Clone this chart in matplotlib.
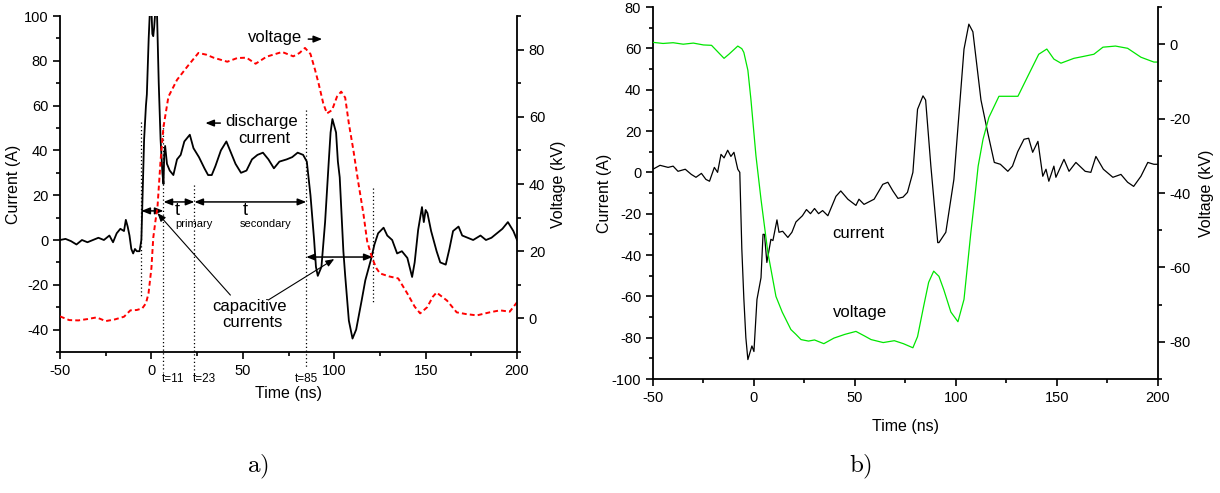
import numpy as np
import matplotlib.pyplot as plt
from matplotlib.ticker import MultipleLocator

plt.rcParams['font.family'] = ['Liberation Sans', 'DejaVu Sans']
plt.rcParams['mathtext.fontset'] = 'cm'
plt.rcParams['axes.unicode_minus'] = False

# ---- panel a) : discharge current and voltage
t_a_cur = [-50, -47, -44, -41, -38, -35, -32, -29, -26, -23, -21, -19, -17, -15, -14, -13,
           -12, -11, -10, -9, -8, -6.5, -5.5, -5, -4, -3, -2.5, -1.5, -0.8, 0, 0.5, 1,
           1.5, 2.2, 3, 4, 5, 6, 6.6, 7, 7.5, 8.5, 10, 12, 14, 16, 18, 21, 23, 26, 29,
           31, 33, 35, 38, 41, 43, 46, 49, 52, 55, 58, 61, 64, 67, 70, 74, 77, 80, 83,
           85, 87, 89, 90, 91, 93, 95, 97, 98, 99, 101, 102, 103, 105, 106, 108, 110,
           112, 115, 117, 120, 122, 124, 127, 129, 131.7, 134.4, 137, 140, 142.6, 144,
           145.9, 148, 149, 150, 151, 153, 156, 158, 161, 163, 165, 168, 170, 173, 176,
           180, 183, 186, 189, 192, 195, 198, 200]
i_a = [0, 0.5, -0.5, -2, 0, -1, 0, 1, 0, 2, -1, 3, 5, 4, 9, 6,
       2, -4, -6, -4, -5, -5, 0, 15, 45, 60, 65, 90, 103, 103, 92, 91,
       95, 103, 103, 70, 45, 30, 25, 38, 42, 34, 31, 29, 36, 38, 44, 47, 41, 37, 32,
       29, 29, 33, 40, 44, 40, 34, 30, 31, 36, 38, 39, 36, 32, 35, 36, 37, 39, 38,
       35, 20, 0, -12, -16, -12, 8, 35, 48, 54, 48, 35, 28, -5, -16, -36, -44,
       -40, -27, -18, -9, -2, 3, 5.5, 2, 0, -6, -5, -8, -16.5, -10,
       4.5, 14.7, 8, 13.4, 12, 4, -5, -10, -11, -4, 4, 6, 2, 1, 0,
       2, 0, 1, 3, 5, 8, 4, 0]

t_a_volt = [-50, -45, -40, -35, -30, -25, -20, -15, -11.5, -8, -5, -3, -1.6, 0, 1, 2.2,
            3.3, 5, 6.6, 9.3, 14, 19.7, 25.7, 30, 34, 41.5, 47, 52, 57, 63, 71.5, 77.6,
            81, 84, 87, 89.5, 91.5, 94, 96, 98.8, 101.5, 103.8, 106, 108, 110.5, 113,
            116, 118, 120.7, 123, 125, 130, 135, 140, 144, 147, 150.8, 154, 156, 161.7,
            167, 172, 178, 185, 190.7, 196, 200]
v_a = [0.6, -0.5, -0.6, -0.2, 0.3, -0.8, -0.3, 0.5, 2.4, 2.5, 3, 4.5, 7.4, 15, 24, 29,
       33, 47, 57, 66, 71, 75, 79, 78.5, 77.6, 76.4, 77.5, 77.6, 75.8, 77.9, 79.3, 78,
       79, 80.5, 78.7, 74, 69.8, 64, 61, 62, 66, 67.5, 65.7, 58, 50, 41,
       31, 23, 18, 15, 13.4, 12.5, 11.9, 7.4, 3.5, 1.5, 3.3, 6.5, 7.7, 5.3,
       1.8, 1.3, 0.9, 1.8, 2.4, 2, 4.8]

# ---- panel b)
t_b_cur = [-50, -46.5, -42.5, -40, -37.6, -34, -31, -28.7, -26, -23.8, -22, -19.6, -18,
           -16.3, -14.8, -13, -11.4, -9.9, -8, -7, -6, -5, -4, -3, -1, 0, 1.5, 3.5, 4.5,
           5.2, 6.4, 8.4, 9.4, 11.4, 12.4, 14.2, 16.8, 18.8, 20.8, 24, 26, 28, 30, 32,
           34, 36.6, 40.6, 43, 46.5, 50.5, 52, 54.5, 59.5, 63.8, 66.3, 68.8, 71.3, 73.8,
           76, 78.7, 81, 83.7, 85, 87.6, 91, 91.6, 95, 99, 104, 106.4, 108.4, 112.4,
           115.8, 119, 122, 125.7, 128, 130.6, 133.7, 136, 138, 140.6, 143, 144.6, 146,
           148.5, 149.5, 153.5, 156, 159.4, 164, 166.8, 169.3, 173, 177.7, 181.7, 185,
           188, 191.6, 195, 198, 200]
i_b = [1.5, 3.4, 2.4, 3, 0.5, 1.5, -1, -2.4, -0.5, -3.4, -4.3, 2.4, 0,
       8.7, 7, 10.7, 7.7, 9.7, 1.5, 0, -37, -61, -80, -90.6, -84, -86.7, -61.5, -51, -30,
       -30, -43.6, -32.4, -33, -23, -29, -28.5, -31.5, -29, -24, -21, -18, -20, -17.5, -20,
       -18.5, -21, -11.6, -9, -13, -16, -13, -15.5, -13, -5.8, -4.8, -9, -12.6, -12,
       -9.7, 0, 30.5, 37, 35, 3, -34, -34, -29, -3.4, 59.6, 71.7, 68, 35,
       19, 4.8, 3.9, 0.5, 3, 10, 16, 16.5, 9.7, 15, -1.9, 1.5, -4.3,
       3, -2.4, 6.3, 0.5, 4.8, 0.5, 0, 7.7, 1.5, -2.4, -1, -4.8,
       -6.8, -1.9, 4.8, 3.9, 3.9]

t_b_volt = [-50, -45, -40, -35, -30, -25, -21, -18, -14.8, -12.4, -10, -8, -6, -5, -3,
            -1.5, 1, 3.5, 6.9, 10.9, 14, 18.3, 20.8, 23.3, 27, 30, 34.6, 39.6, 45, 50.5,
            55, 58, 64, 69.5, 74, 78.7, 81, 84, 86.5, 89, 91.6, 94, 97.5, 101, 104, 107.4,
            109, 111, 113.4, 116.3, 121.3, 125.7, 130.7, 135.6, 141, 145, 148.5, 152,
            158.4, 163, 168.3, 172.8, 179, 185, 191.6, 198, 200]
v_b = [0.5, 0.2, 0.4, 0, 0.3, -0.2, -0.3, -2, -3.8, -2.7, -1.5, -0.5, -1.2, -2.2, -7,
       -14.8, -30, -41.7, -56, -67.8, -72, -76.7, -78, -79.4, -79.8, -79.5, -80.5, -79, -78, -77.2,
       -78.5, -79.4, -80.2, -79.7, -80.5, -81.6, -78.6, -70.5, -64, -61, -62.4, -66, -72, -74.6, -68.6, -50.6,
       -43, -32.8, -25.6, -19.7, -14, -14, -14, -8.6, -2.7, -1.3, -4, -5.1,
       -3.8, -3.3, -2.7, -0.8, -0.5, -1.1, -3.5, -4.8, -4.8]


def style_axes(ax, axv):
    for a in (ax, axv):
        a.spines['top'].set_visible(False)
        a.tick_params(which='major', direction='out', length=5, width=1.2, labelsize=10.5)
        a.tick_params(which='minor', direction='out', length=3, width=1.2)
    ax.spines['right'].set_visible(False)
    axv.spines['left'].set_visible(False)
    axv.spines['bottom'].set_visible(False)
    for s in ('left', 'bottom'):
        ax.spines[s].set_linewidth(1.3)
    axv.spines['right'].set_linewidth(1.3)


fig = plt.figure(figsize=(12.2, 4.93), dpi=100)

# ---------------- a)
ax1 = fig.add_axes([0.0492, 0.286, 0.3746, 0.6815])
ax1v = ax1.twinx()
ax1.plot(t_a_cur, i_a, color='black', lw=1.3)
ax1v.plot(t_a_volt, v_a, color='red', lw=1.4, linestyle=(0, (2.5, 1.6)))
ax1.set_xlim(-50, 200)
ax1.set_ylim(-50, 100)
ax1v.set_ylim(-10, 90)
ax1.xaxis.set_major_locator(MultipleLocator(50))
ax1.xaxis.set_minor_locator(MultipleLocator(25))
ax1.yaxis.set_major_locator(MultipleLocator(20))
ax1.yaxis.set_minor_locator(MultipleLocator(10))
ax1v.yaxis.set_major_locator(MultipleLocator(20))
ax1v.yaxis.set_minor_locator(MultipleLocator(10))
ax1.set_yticks([-40, -20, 0, 20, 40, 60, 80, 100])
ax1v.set_yticks([0, 20, 40, 60, 80])
style_axes(ax1, ax1v)
ax1.set_xlabel('Time (ns)', fontsize=11.5, labelpad=6)
ax1.set_ylabel('Current (A)', fontsize=11.5, labelpad=2)
ax1v.set_ylabel('Voltage (kV)', fontsize=11.5, labelpad=4)

# dotted markers
for x, y0, y1 in [(-5.5, 52.7, -26), (6.6, 52, -59), (23.5, 24.5, -60),
                  (84.7, 58, -57), (121, 23, -28)]:
    ax1.plot([x, x], [y0, y1], color='black', lw=0.9, linestyle=(0, (1, 2)),
             clip_on=False)

dbl = dict(arrowstyle='<|-|>,head_length=0.5,head_width=0.2', color='black', lw=1.1,
           shrinkA=0, shrinkB=0)
for x0, x1, y in [(-5.5, 6.6, 13), (6.6, 23.5, 17), (23.5, 84.7, 17), (84.7, 121, -7.6)]:
    ax1.annotate('', xy=(x1, y), xytext=(x0, y), arrowprops=dbl)

ax1.text(14.2, 9.6, 't', fontsize=13, ha='center', va='bottom')
ax1.text(23.5, 9.2, 'primary', fontsize=8, ha='center', va='top')
ax1.text(51.4, 9.6, 't', fontsize=13, ha='center', va='bottom')
ax1.text(62.3, 9.2, 'secondary', fontsize=8, ha='center', va='top')

for x, lab in [(11.7, 't=11'), (29.2, 't=23'), (85, 't=85')]:
    ax1.text(x, -62, lab, fontsize=8.5, ha='center', va='center', clip_on=False)

ax1.text(67.8, 90.2, 'voltage', fontsize=12, ha='center', va='center')
one = dict(arrowstyle='-|>,head_length=0.5,head_width=0.2', color='black', lw=1.1,
           shrinkA=0, shrinkB=0)
ax1.annotate('', xy=(93.4, 89.7), xytext=(85.8, 89.7), arrowprops=one)
ax1.text(60.4, 52.7, 'discharge', fontsize=12, ha='center', va='center')
ax1.text(62, 45.5, 'current', fontsize=12, ha='center', va='center')
ax1.annotate('', xy=(29.5, 52.2), xytext=(37.7, 52.2), arrowprops=one)

ax1.text(53.6, -29.5, 'capacitive', fontsize=12, ha='center', va='center')
ax1.text(55.2, -37, 'currents', fontsize=12, ha='center', va='center')
thin = dict(arrowstyle='-|>,head_length=0.5,head_width=0.2', color='black', lw=0.8,
            shrinkA=0, shrinkB=0)
ax1.annotate('', xy=(3.3, 12), xytext=(43.2, -24.6), arrowprops=thin)
ax1.annotate('', xy=(100, -8.5), xytext=(63.9, -26.8), arrowprops=thin)

# ---------------- b)
ax2 = fig.add_axes([0.5352, 0.2312, 0.4139, 0.7546])
ax2v = ax2.twinx()
ax2.plot(t_b_cur, i_b, color='black', lw=0.9)
ax2v.plot(t_b_volt, v_b, color='#00e600', lw=0.9)
ax2.set_xlim(-50, 200)
ax2.set_ylim(-100, 80)
ax2v.set_ylim(-90, 10)
ax2.xaxis.set_major_locator(MultipleLocator(50))
ax2.xaxis.set_minor_locator(MultipleLocator(25))
ax2.yaxis.set_major_locator(MultipleLocator(20))
ax2.yaxis.set_minor_locator(MultipleLocator(10))
ax2v.yaxis.set_major_locator(MultipleLocator(20))
ax2v.yaxis.set_minor_locator(MultipleLocator(10))
style_axes(ax2, ax2v)
ax2.set_xlabel('Time (ns)', fontsize=11.5, labelpad=10)
ax2.set_ylabel('Current (A)', fontsize=11.5, labelpad=0)
ax2v.set_ylabel('Voltage (kV)', fontsize=11.5, labelpad=6)
ax2.text(51.5, -29.5, 'current', fontsize=12, ha='center', va='center')
ax2.text(52.5, -68, 'voltage', fontsize=12, ha='center', va='center')

fig.text(258 / 1220, 1 - 467 / 493, r'$\mathrm{a)}$', fontsize=18, ha='center', va='center')
fig.text(861 / 1220, 1 - 467 / 493, r'$\mathrm{b)}$', fontsize=18, ha='center', va='center')

fig.savefig('out.png', dpi=100)
